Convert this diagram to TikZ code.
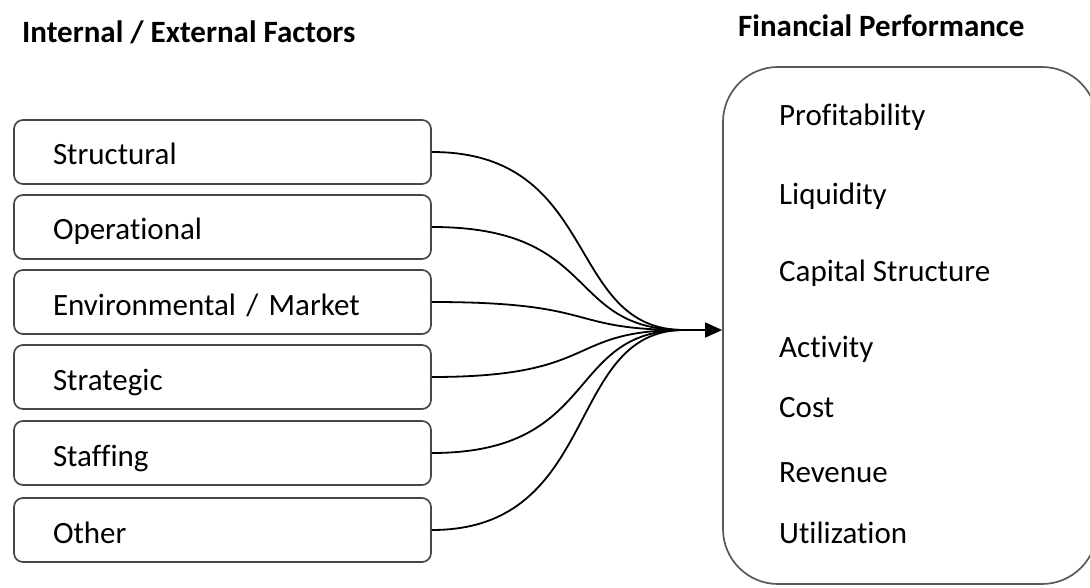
\documentclass[tikz,border=0pt]{standalone}
\usepackage{fontspec}
\setmainfont[Ligatures=NoCommon]{Carlito}
\usetikzlibrary{arrows.meta, positioning}

\tikzset{
  factor/.style={draw=black!72, line width=1.7pt, rounded corners=9pt,
    minimum width=417pt, minimum height=64pt, text width=339pt,
    inner xsep=39pt, align=left, text height=26pt, text depth=0pt},
  measure/.style={anchor=base west, inner sep=0pt},
  heading/.style={anchor=base west, inner sep=0pt, font=\fontsize{31}{37}\selectfont\bfseries},
  link/.style={line width=1.8pt},
}

\begin{document}
\begin{tikzpicture}[x=1pt, y=-1pt, >=Triangle, font=\fontsize{31}{37}\selectfont]
    \useasboundingbox (0,0) rectangle (1090,588);

    % --- headings ---
    \node[heading] (factHead) at (22,43) {Internal / External Factors};
    \node[heading] (perfHead) at (738,37) {Financial Performance};

    % --- factor boxes ---
    \node[factor] (structural) at (222.5,152) {Structural};
    \node[factor] (operational) at (222.5,227) {Operational};
    \node[factor] (market) at (222.5,302) {Environmental / Market};
    \node[factor] (strategic) at (222.5,377) {Strategic};
    \node[factor] (staffing) at (222.5,453) {Staffing};
    \node[factor] (other) at (222.5,530) {Other};

    % --- performance box, runs past the right edge ---
    \node[draw=black!65, line width=1.7pt, rounded corners=55pt,
          minimum width=374pt, minimum height=517pt] (perf) at (910,325.5) {};
    \node[measure] (profit) at (779,126) {Profitability};
    \node[measure] (liquid) at (779,205) {Liquidity};
    \node[measure] (capital) at (779,281) {Capital Structure};
    \node[measure] (activity) at (779,357) {Activity};
    \node[measure] (cost) at (779,417) {Cost};
    \node[measure] (revenue) at (779,482) {Revenue};
    \node[measure] (util) at (779,543) {Utilization};

    % --- connectors ---
    \coordinate (hub) at (684,330);
    \foreach \f in {structural,operational,market,strategic,staffing,other}
        \draw[link] (\f.east) .. controls +(170,0) and +(-120,0) .. (hub);
    \draw[link, -{Triangle[length=17pt, width=15pt]}] (hub) -- (perf.west |- hub);
\end{tikzpicture}
\end{document}
